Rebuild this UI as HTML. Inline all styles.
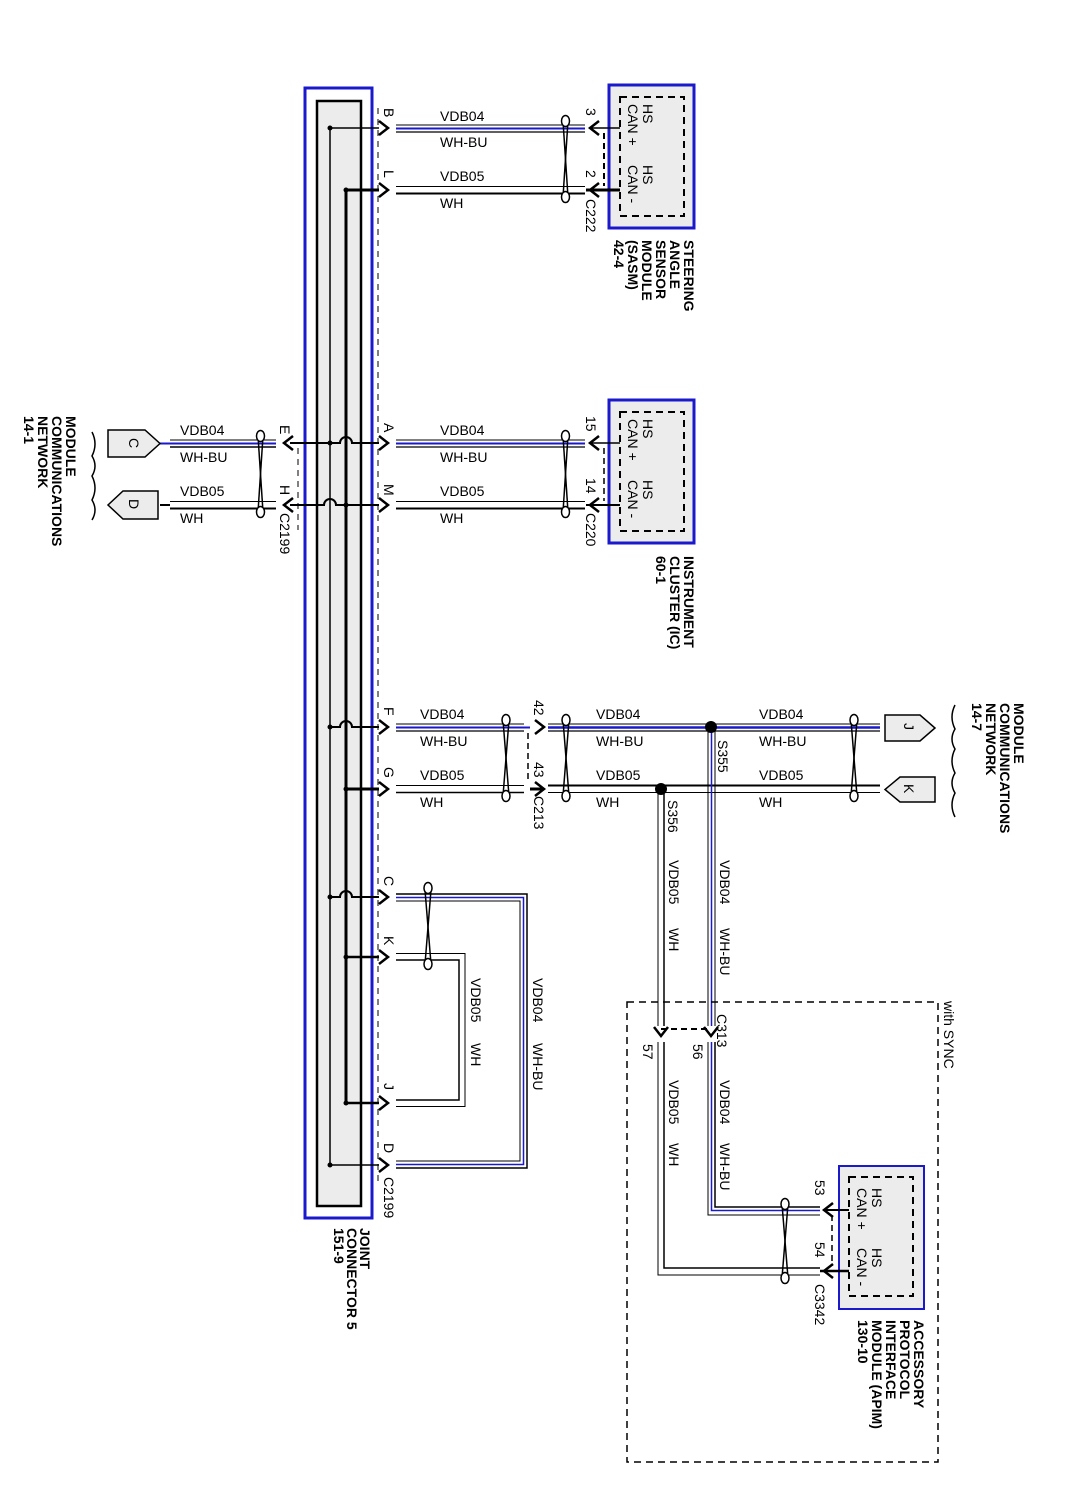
<!DOCTYPE html>
<html><head><meta charset="utf-8"><style>
html,body{margin:0;padding:0;background:#fff;}
svg{display:block;}
text{font-family:"Liberation Sans",sans-serif;fill:#000;}
.l{font-size:14px;}
.s{font-size:14px;}
.m{font-size:14px;font-weight:bold;}
</style></head><body>
<svg width="1085" height="1490" viewBox="0 0 1085 1490" xmlns="http://www.w3.org/2000/svg">
<defs>
<g id="arR"><path d="M-9,-7 L0,0 L-9,7" fill="none" stroke="#000" stroke-width="2.5"/></g>
<g id="arL"><path d="M9,-7 L0,0 L9,7" fill="none" stroke="#000" stroke-width="2.5"/></g>
<g id="arD"><path d="M-7,-9 L0,0 L7,-9" fill="none" stroke="#000" stroke-width="2.5"/></g>
</defs>

<rect x="305" y="88" width="67" height="1130" fill="#fff" stroke="#1a1acc" stroke-width="3"/>
<rect x="317" y="101" width="44" height="1105" fill="#ececec" stroke="#000" stroke-width="2.5"/>
<line x1="378" y1="108" x2="378" y2="1185" stroke="#000" stroke-width="1" stroke-dasharray="6,5"/>
<line x1="330" y1="128" x2="330" y2="1165" stroke="#000" stroke-width="1.5"/>
<line x1="346" y1="190" x2="346" y2="1103" stroke="#000" stroke-width="3"/>

<g stroke="#000" fill="none">
<path d="M330,128 H379" stroke-width="1.5"/>
<path d="M290,443 H340 a6,6 0 0 1 12,0 H379" stroke-width="2"/>
<path d="M330,727 H340 a6,6 0 0 1 12,0 H379" stroke-width="2"/>
<path d="M330,897 H340 a6,6 0 0 1 12,0 H379" stroke-width="2"/>
<path d="M330,1165 H379" stroke-width="1.5"/>
<path d="M346,190 H379" stroke-width="3"/>
<path d="M290,505 H324 a6,6 0 0 1 12,0 H379" stroke-width="2"/>
<path d="M346,789 H379" stroke-width="3"/>
<path d="M346,957 H379" stroke-width="2.5"/>
<path d="M346,1103 H379" stroke-width="2.5"/>
</g>
<g fill="#000">
<circle cx="330" cy="128" r="2.5"/><circle cx="346" cy="190" r="2.5"/>
<circle cx="330" cy="443" r="2.5"/><circle cx="346" cy="505" r="2.5"/>
<circle cx="330" cy="727" r="2.5"/><circle cx="346" cy="789" r="2.5"/>
<circle cx="330" cy="897" r="2.5"/><circle cx="346" cy="957" r="2.5"/>
<circle cx="346" cy="1103" r="2.5"/><circle cx="330" cy="1165" r="2.5"/>
</g>
<use href="#arR" x="388" y="128"/><use href="#arR" x="388" y="190"/>
<use href="#arR" x="388" y="443"/><use href="#arR" x="388" y="505"/>
<use href="#arR" x="388" y="727"/><use href="#arR" x="388" y="789"/>
<use href="#arR" x="388" y="897"/><use href="#arR" x="388" y="957"/>
<use href="#arR" x="388" y="1103"/><use href="#arR" x="388" y="1165"/>
<g class="l">
<text transform="translate(384,108) rotate(90)">B</text>
<text transform="translate(384,170) rotate(90)">L</text>
<text transform="translate(384,423) rotate(90)">A</text>
<text transform="translate(384,484) rotate(90)">M</text>
<text transform="translate(384,707) rotate(90)">F</text>
<text transform="translate(384,767) rotate(90)">G</text>
<text transform="translate(384,876) rotate(90)">C</text>
<text transform="translate(384,936) rotate(90)">K</text>
<text transform="translate(384,1083) rotate(90)">J</text>
<text transform="translate(384,1143) rotate(90)">D</text>
<text transform="translate(384,1177) rotate(90)">C2199</text>
</g>
<g class="m">
<text transform="translate(360,1228) rotate(90)">JOINT</text>
<text transform="translate(347,1228) rotate(90)">CONNECTOR 5</text>
<text transform="translate(334,1228) rotate(90)">151-9</text>
</g>

<g fill="none">
<path d="M396,125 H585" stroke="#000" stroke-width="1"/>
<path d="M396,128.5 H585" stroke="#1a1acc" stroke-width="2"/>
<path d="M396,132 H585" stroke="#000" stroke-width="1.2"/>
<path d="M396,186.5 H585" stroke="#000" stroke-width="1"/>
<path d="M396,193.5 H585" stroke="#000" stroke-width="2"/>
<path d="M396,440 H585" stroke="#000" stroke-width="1"/>
<path d="M396,443.5 H585" stroke="#1a1acc" stroke-width="2"/>
<path d="M396,447 H585" stroke="#000" stroke-width="1.2"/>
<path d="M396,501.5 H585" stroke="#000" stroke-width="1"/>
<path d="M396,508.5 H585" stroke="#000" stroke-width="2"/>
<path d="M170,440 H276" stroke="#000" stroke-width="1"/>
<path d="M160,443.5 H276" stroke="#1a1acc" stroke-width="2"/>
<path d="M170,447 H276" stroke="#000" stroke-width="1.5"/>
<path d="M170,501.5 H276" stroke="#000" stroke-width="1"/>
<path d="M160,505 H170" stroke="#000" stroke-width="2"/>
<path d="M170,508.5 H276" stroke="#000" stroke-width="2"/>
<path d="M396,724 H524" stroke="#000" stroke-width="1"/>
<path d="M396,727.5 H530" stroke="#1a1acc" stroke-width="2"/>
<path d="M396,731 H524" stroke="#000" stroke-width="1.2"/>
<path d="M396,785.5 H524" stroke="#000" stroke-width="1"/>
<path d="M396,792.5 H524" stroke="#000" stroke-width="1.5"/>
<path d="M548,724 H880" stroke="#000" stroke-width="1"/>
<path d="M548,727.5 H880" stroke="#1a1acc" stroke-width="2.5"/>
<path d="M548,731 H880" stroke="#000" stroke-width="1.2"/>
<path d="M548,785.5 H880" stroke="#000" stroke-width="2"/>
<path d="M548,792.5 H880" stroke="#000" stroke-width="1"/>
<path d="M396,894 H527 V1168 H396" stroke="#000" stroke-width="1.5"/>
<path d="M396,897.5 H523.5 V1164.5 H396" stroke="#1a1acc" stroke-width="1.5"/>
<path d="M396,901 H520 V1161 H396" stroke="#000" stroke-width="1"/>
<path d="M396,953.5 H465 V1106.5 H396" stroke="#000" stroke-width="1"/>
<path d="M396,960 H459 V1100 H396" stroke="#000" stroke-width="1.5"/>
<path d="M708,727 V1026" stroke="#000" stroke-width="1"/>
<path d="M711.5,727 V1026" stroke="#1a1acc" stroke-width="1.5"/>
<path d="M715,727 V1026" stroke="#000" stroke-width="1"/>
<path d="M658,789 V1026" stroke="#000" stroke-width="1"/>
<path d="M664,789 V1026" stroke="#000" stroke-width="1.5"/>
<path d="M715,1042 V1207 H820" stroke="#000" stroke-width="1.5"/>
<path d="M711.5,1042 V1210.5 H820" stroke="#1a1acc" stroke-width="1.5"/>
<path d="M708,1042 V1215 H820" stroke="#000" stroke-width="1"/>
<path d="M664,1042 V1268 H820" stroke="#000" stroke-width="1.5"/>
<path d="M658,1042 V1275 H820" stroke="#000" stroke-width="1"/>
</g>
<circle cx="711" cy="727" r="6" fill="#000"/>
<circle cx="661" cy="789" r="6" fill="#000"/>

<g class="s">
<text x="440" y="121">VDB04</text><text x="440" y="147">WH-BU</text>
<text x="440" y="181">VDB05</text><text x="440" y="208">WH</text>
<text x="440" y="435">VDB04</text><text x="440" y="462">WH-BU</text>
<text x="440" y="496">VDB05</text><text x="440" y="523">WH</text>
<text x="180" y="435">VDB04</text><text x="180" y="462">WH-BU</text>
<text x="180" y="496">VDB05</text><text x="180" y="523">WH</text>
<text x="420" y="719">VDB04</text><text x="420" y="746">WH-BU</text>
<text x="420" y="780">VDB05</text><text x="420" y="807">WH</text>
<text x="596" y="719">VDB04</text><text x="596" y="746">WH-BU</text>
<text x="596" y="780">VDB05</text><text x="596" y="807">WH</text>
<text x="759" y="719">VDB04</text><text x="759" y="746">WH-BU</text>
<text x="759" y="780">VDB05</text><text x="759" y="807">WH</text>
<text transform="translate(533,978) rotate(90)">VDB04</text>
<text transform="translate(533,1043) rotate(90)">WH-BU</text>
<text transform="translate(471,978) rotate(90)">VDB05</text>
<text transform="translate(471,1043) rotate(90)">WH</text>
<text transform="translate(720,860) rotate(90)">VDB04</text>
<text transform="translate(720,928) rotate(90)">WH-BU</text>
<text transform="translate(669,860) rotate(90)">VDB05</text>
<text transform="translate(669,928) rotate(90)">WH</text>
<text transform="translate(720,1080) rotate(90)">VDB04</text>
<text transform="translate(720,1143) rotate(90)">WH-BU</text>
<text transform="translate(669,1080) rotate(90)">VDB05</text>
<text transform="translate(669,1143) rotate(90)">WH</text>
<text transform="translate(718,740) rotate(90)">S355</text>
<text transform="translate(668,800) rotate(90)">S356</text>
</g>

<g fill="#fff" stroke="#000" stroke-width="1.5">
<line x1="563" y1="121" x2="568" y2="197"/><line x1="568" y1="121" x2="563" y2="197"/>
<ellipse cx="565.5" cy="121" rx="4" ry="5.5"/><ellipse cx="565.5" cy="197" rx="4" ry="5.5"/>
<line x1="563" y1="436" x2="568" y2="512"/><line x1="568" y1="436" x2="563" y2="512"/>
<ellipse cx="565.5" cy="436" rx="4" ry="5.5"/><ellipse cx="565.5" cy="512" rx="4" ry="5.5"/>
<line x1="258" y1="436" x2="263" y2="512"/><line x1="263" y1="436" x2="258" y2="512"/>
<ellipse cx="260.5" cy="436" rx="4" ry="5.5"/><ellipse cx="260.5" cy="512" rx="4" ry="5.5"/>
<line x1="503" y1="720" x2="509" y2="796"/><line x1="509" y1="720" x2="503" y2="796"/>
<ellipse cx="506" cy="720" rx="4" ry="5.5"/><ellipse cx="506" cy="796" rx="4" ry="5.5"/>
<line x1="563" y1="720" x2="569" y2="796"/><line x1="569" y1="720" x2="563" y2="796"/>
<ellipse cx="566" cy="720" rx="4" ry="5.5"/><ellipse cx="566" cy="796" rx="4" ry="5.5"/>
<line x1="851" y1="720" x2="857" y2="796"/><line x1="857" y1="720" x2="851" y2="796"/>
<ellipse cx="854" cy="720" rx="4" ry="5.5"/><ellipse cx="854" cy="796" rx="4" ry="5.5"/>
<line x1="425" y1="890" x2="431" y2="964"/><line x1="431" y1="890" x2="425" y2="964"/>
<ellipse cx="428" cy="888" rx="4" ry="5.5"/><ellipse cx="428" cy="964" rx="4" ry="5.5"/>
<line x1="782" y1="1204" x2="788" y2="1278"/><line x1="788" y1="1204" x2="782" y2="1278"/>
<ellipse cx="785" cy="1204" rx="4" ry="5.5"/><ellipse cx="785" cy="1278" rx="4" ry="5.5"/>
</g>

<rect x="609" y="85" width="85" height="143" fill="#ececec" stroke="#1a1acc" stroke-width="3"/>
<rect x="620" y="97" width="64" height="119" fill="none" stroke="#000" stroke-width="2" stroke-dasharray="7,5"/>
<line x1="590" y1="128" x2="620" y2="128" stroke="#000" stroke-width="1.5"/>
<line x1="586" y1="190" x2="620" y2="190" stroke="#000" stroke-width="3"/>
<use href="#arL" x="590" y="128"/><use href="#arL" x="590" y="190"/>
<line x1="604" y1="133" x2="604" y2="186" stroke="#000" stroke-width="2" stroke-dasharray="6,4"/>
<g class="l">
<text transform="translate(643,104) rotate(90)">HS</text>
<text transform="translate(628,104) rotate(90)">CAN +</text>
<text transform="translate(643,165) rotate(90)">HS</text>
<text transform="translate(628,165) rotate(90)">CAN -</text>
<text transform="translate(586,108) rotate(90)">3</text>
<text transform="translate(586,170) rotate(90)">2</text>
<text transform="translate(586,199) rotate(90)">C222</text>
<text transform="translate(586,416) rotate(90)">15</text>
<text transform="translate(586,478) rotate(90)">14</text>
<text transform="translate(586,513) rotate(90)">C220</text>
<text transform="translate(280,425) rotate(90)">E</text>
<text transform="translate(280,485) rotate(90)">H</text>
<text transform="translate(280,513) rotate(90)">C2199</text>
<text transform="translate(534,700) rotate(90)">42</text>
<text transform="translate(534,762) rotate(90)">43</text>
<text transform="translate(534,796) rotate(90)">C213</text>
<text transform="translate(717,1014) rotate(90)">C313</text>
<text transform="translate(693,1044) rotate(90)">56</text>
<text transform="translate(643,1044) rotate(90)">57</text>
<text transform="translate(815,1180) rotate(90)">53</text>
<text transform="translate(815,1242) rotate(90)">54</text>
<text transform="translate(815,1284) rotate(90)">C3342</text>
<text transform="translate(944,1001) rotate(90)">with SYNC</text>
</g>
<g class="m">
<text transform="translate(684,240) rotate(90)">STEERING</text>
<text transform="translate(670,240) rotate(90)">ANGLE</text>
<text transform="translate(656,240) rotate(90)">SENSOR</text>
<text transform="translate(642,240) rotate(90)">MODULE</text>
<text transform="translate(628,240) rotate(90)">(SASM)</text>
<text transform="translate(614,240) rotate(90)">42-4</text>
<text transform="translate(684,556) rotate(90)">INSTRUMENT</text>
<text transform="translate(670,556) rotate(90)">CLUSTER (IC)</text>
<text transform="translate(656,556) rotate(90)">60-1</text>
<text transform="translate(66,416) rotate(90)">MODULE</text>
<text transform="translate(52,416) rotate(90)">COMMUNICATIONS</text>
<text transform="translate(38,416) rotate(90)">NETWORK</text>
<text transform="translate(24,416) rotate(90)">14-1</text>
<text transform="translate(1014,703) rotate(90)">MODULE</text>
<text transform="translate(1000,703) rotate(90)">COMMUNICATIONS</text>
<text transform="translate(986,703) rotate(90)">NETWORK</text>
<text transform="translate(972,703) rotate(90)">14-7</text>
<text transform="translate(914,1320) rotate(90)">ACCESSORY</text>
<text transform="translate(900,1320) rotate(90)">PROTOCOL</text>
<text transform="translate(886,1320) rotate(90)">INTERFACE</text>
<text transform="translate(872,1320) rotate(90)">MODULE (APIM)</text>
<text transform="translate(858,1320) rotate(90)">130-10</text>
</g>

<rect x="609" y="400" width="85" height="143" fill="#ececec" stroke="#1a1acc" stroke-width="3"/>
<rect x="620" y="412" width="64" height="119" fill="none" stroke="#000" stroke-width="2" stroke-dasharray="7,5"/>
<line x1="590" y1="443" x2="620" y2="443" stroke="#000" stroke-width="1.5"/>
<line x1="586" y1="505" x2="620" y2="505" stroke="#000" stroke-width="2"/>
<use href="#arL" x="590" y="443"/><use href="#arL" x="590" y="505"/>
<line x1="604" y1="448" x2="604" y2="501" stroke="#000" stroke-width="1.5" stroke-dasharray="6,4"/>
<g class="l">
<text transform="translate(643,419) rotate(90)">HS</text>
<text transform="translate(628,419) rotate(90)">CAN +</text>
<text transform="translate(643,480) rotate(90)">HS</text>
<text transform="translate(628,480) rotate(90)">CAN -</text>
</g>

<path d="M108,430 H145 L160,443.5 L145,457 H108 Z" fill="#ececec" stroke="#000" stroke-width="1.5"/>
<path d="M123,491 H158 V519 H123 L108,505 Z" fill="#ececec" stroke="#000" stroke-width="1.5"/>
<text class="l" transform="translate(129,438) rotate(90)">C</text>
<text class="l" transform="translate(129,499) rotate(90)">D</text>
<use href="#arL" x="284" y="443"/><use href="#arL" x="284" y="505"/>
<line x1="298" y1="448" x2="298" y2="530" stroke="#000" stroke-width="1" stroke-dasharray="6,5"/>
<path d="M92,432 q6,12 0,24 q6,10 0,20 q6,12 0,24 q6,10 0,20" fill="none" stroke="#000" stroke-width="1.5"/>

<use href="#arR" x="544" y="727"/><use href="#arR" x="544" y="789"/>
<line x1="530" y1="789" x2="544" y2="789" stroke="#000" stroke-width="3"/>
<line x1="528" y1="733" x2="528" y2="783" stroke="#000" stroke-width="1.5" stroke-dasharray="6,4"/>

<path d="M885,715 H920 L935,728 L920,741 H885 Z" fill="#ececec" stroke="#000" stroke-width="1.5"/>
<path d="M900,777 H935 V802 H900 L885,789.5 Z" fill="#ececec" stroke="#000" stroke-width="1.5"/>
<text class="l" transform="translate(904,723) rotate(90)">J</text>
<text class="l" transform="translate(904,784) rotate(90)">K</text>
<path d="M955,705 q-6,12 0,24 q-6,10 0,20 q-6,12 0,24 q-6,10 0,20 q-6,12 0,24" fill="none" stroke="#000" stroke-width="1.5"/>

<rect x="627" y="1002" width="311" height="460" fill="none" stroke="#000" stroke-width="1.5" stroke-dasharray="7,5"/>
<use href="#arD" x="711" y="1036"/><use href="#arD" x="661" y="1036"/>
<line x1="661" y1="1029" x2="711" y2="1029" stroke="#000" stroke-width="2" stroke-dasharray="6,4"/>

<rect x="839" y="1166" width="85" height="143" fill="#ececec" stroke="#1a1acc" stroke-width="2"/>
<rect x="849" y="1177" width="64" height="119" fill="none" stroke="#000" stroke-width="2" stroke-dasharray="7,5"/>
<line x1="825" y1="1210" x2="849" y2="1210" stroke="#000" stroke-width="2"/>
<line x1="820" y1="1271" x2="849" y2="1271" stroke="#000" stroke-width="2.5"/>
<use href="#arL" x="824" y="1210"/><use href="#arL" x="824" y="1271"/>
<line x1="832" y1="1215" x2="832" y2="1266" stroke="#000" stroke-width="1.5" stroke-dasharray="6,4"/>
<g class="l">
<text transform="translate(872,1188) rotate(90)">HS</text>
<text transform="translate(857,1188) rotate(90)">CAN +</text>
<text transform="translate(872,1248) rotate(90)">HS</text>
<text transform="translate(857,1248) rotate(90)">CAN -</text>
</g>
</svg>
</body></html>
